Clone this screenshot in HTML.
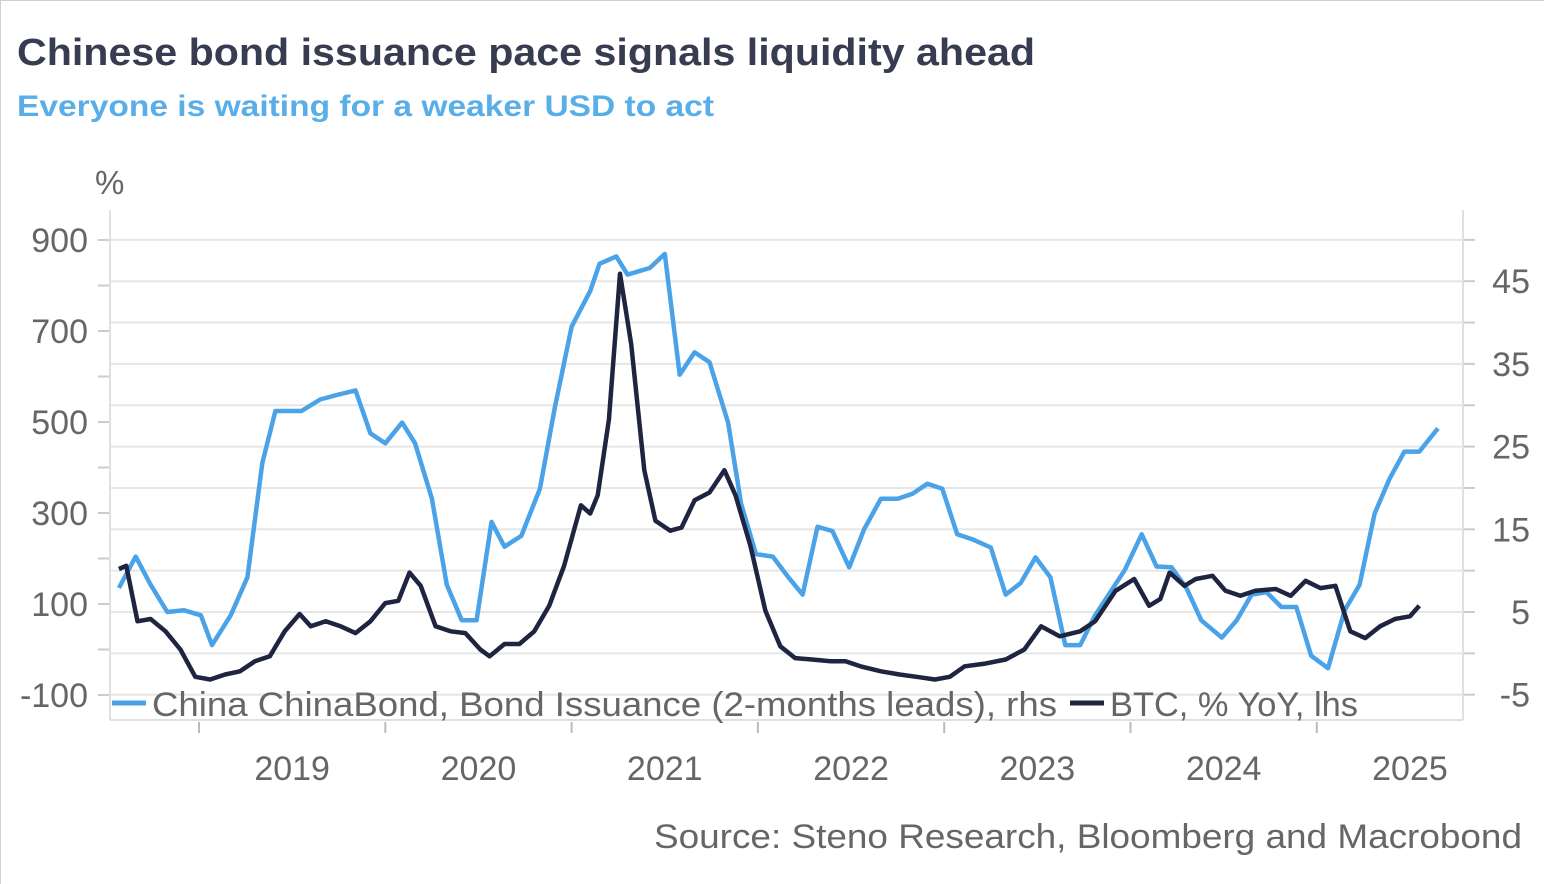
<!DOCTYPE html>
<html><head><meta charset="utf-8"><style>
html,body{margin:0;padding:0;background:#fff;}
svg{display:block;font-family:"Liberation Sans",sans-serif;}
</style></head><body>
<svg id="chart" width="1544" height="884" viewBox="0 0 1544 884">
<rect x="0.5" y="0.5" width="1560" height="900" fill="#fff" stroke="#d0d0d0"/>
<text x="17" y="65" font-size="38" font-weight="bold" fill="#373c50" textLength="1018" lengthAdjust="spacingAndGlyphs">Chinese bond issuance pace signals liquidity ahead</text>
<text x="17" y="116" font-size="30" font-weight="bold" fill="#5aaee8" textLength="697" lengthAdjust="spacingAndGlyphs">Everyone is waiting for a weaker USD to act</text>
<text x="95" y="194" font-size="33" fill="#666">%</text>
<g id="grid"></g>
<g id="axes"></g>
<g id="series"></g>
<g>
<line x1="112" y1="703" x2="146" y2="703" stroke="#4aa3e8" stroke-width="5"/>
<text x="152" y="716" font-size="34" fill="#666" textLength="905" lengthAdjust="spacingAndGlyphs">China ChinaBond, Bond Issuance (2-months leads), rhs</text>
<line x1="1070" y1="703" x2="1104" y2="703" stroke="#1f2540" stroke-width="5"/>
<text x="1110" y="716" font-size="34" fill="#666" textLength="248" lengthAdjust="spacingAndGlyphs">BTC, % YoY, lhs</text>
</g>
<text x="1522" y="848" font-size="34" fill="#666" text-anchor="end" textLength="868" lengthAdjust="spacingAndGlyphs">Source: Steno Research, Bloomberg and Macrobond</text>
</svg>
<script>
const blueT=[2018.57,2018.66,2018.74,2018.83,2018.92,2019.01,2019.07,2019.17,2019.26,2019.34,2019.41,2019.55,2019.65,2019.75,2019.84,2019.92,2020.00,2020.09,2020.16,2020.25,2020.33,2020.41,2020.49,2020.57,2020.64,2020.73,2020.83,2020.91,2021.00,2021.10,2021.15,2021.24,2021.30,2021.42,2021.50,2021.58,2021.66,2021.74,2021.84,2021.91,2021.99,2022.08,2022.16,2022.24,2022.32,2022.40,2022.49,2022.57,2022.66,2022.75,2022.83,2022.91,2022.99,2023.07,2023.15,2023.25,2023.33,2023.41,2023.49,2023.57,2023.65,2023.73,2023.81,2023.90,2023.97,2024.06,2024.14,2024.22,2024.30,2024.38,2024.49,2024.57,2024.65,2024.73,2024.81,2024.89,2024.97,2025.06,2025.15,2025.23,2025.31,2025.39,2025.47,2025.55,2025.65];
const blueV=[7.9,11.7,8.3,5.0,5.2,4.6,1.0,4.6,9.2,23.0,29.3,29.3,30.7,31.3,31.8,26.6,25.4,27.9,25.4,18.7,8.3,4.0,4.0,15.9,12.9,14.2,19.9,29.7,39.5,43.8,47.1,48.0,45.8,46.6,48.3,33.7,36.4,35.2,27.9,18.1,12.0,11.7,9.3,7.1,15.3,14.8,10.4,15.0,18.7,18.7,19.3,20.5,19.9,14.4,13.8,12.8,7.1,8.5,11.6,9.2,1.0,1.0,4.6,7.7,10.1,14.4,10.5,10.4,7.9,4.0,1.9,4.0,7.1,7.4,5.6,5.6,-0.3,-1.8,5.2,8.3,16.9,21.1,24.4,24.4,27.2];
const btcT=[2018.57,2018.61,2018.67,2018.74,2018.82,2018.90,2018.98,2019.06,2019.14,2019.22,2019.30,2019.38,2019.46,2019.54,2019.60,2019.68,2019.76,2019.84,2019.92,2020.00,2020.07,2020.13,2020.19,2020.27,2020.35,2020.43,2020.51,2020.56,2020.64,2020.72,2020.80,2020.88,2020.96,2021.05,2021.10,2021.14,2021.20,2021.26,2021.32,2021.39,2021.45,2021.53,2021.59,2021.66,2021.74,2021.82,2021.88,2021.96,2022.04,2022.12,2022.20,2022.29,2022.39,2022.47,2022.55,2022.66,2022.76,2022.87,2022.95,2023.03,2023.11,2023.22,2023.33,2023.43,2023.52,2023.62,2023.73,2023.81,2023.92,2024.02,2024.10,2024.16,2024.21,2024.29,2024.35,2024.44,2024.51,2024.59,2024.67,2024.78,2024.86,2024.94,2025.02,2025.10,2025.18,2025.26,2025.34,2025.42,2025.50,2025.55];
const btcV=[177,184,62,67,40,0,-60,-66,-55,-48,-26,-15,40,78,51,62,51,36,62,102,107,169,140,51,40,36,0,-15,12,12,40,96,184,317,299,339,505,826,671,394,283,261,268,328,345,394,339,228,85,7,-19,-22,-26,-26,-37,-48,-55,-61,-66,-60,-37,-31,-22,0,51,29,40,62,129,155,96,111,169,140,155,162,129,118,129,133,118,151,135,140,40,25,51,67,73,96];
const leftTicks=[900,700,500,300,100,-100];
const rightTicks=[45,35,25,15,5,-5];
const yearLabels=["2019","2020","2021","2022","2023","2024","2025"];

const NS="http://www.w3.org/2000/svg";
const X0=110,X1=1463,YT=210,YB=720;
function xS(t){return 199+(t-2019)*186.3;}
function yL(v){return 695-(v+100)*0.455;}
function yR(v){return 612-(v-5)*8.27;}
function mk(tag,attrs,parent){const e=document.createElementNS(NS,tag);for(const k in attrs)e.setAttribute(k,attrs[k]);parent.appendChild(e);return e;}
const grid=document.getElementById('grid'),axes=document.getElementById('axes'),series=document.getElementById('series');
for(let v=-5;v<=50;v+=5){
  const g=mk('line',{x1:X0,x2:X1,y1:yR(v),y2:yR(v),stroke:'#e6e6e6','stroke-width':2},grid);
  
  
  const t=mk('line',{x1:X1,x2:X1+12,y1:yR(v),y2:yR(v),stroke:'#ccc','stroke-width':2},axes);
  
  
}
for(let v=-100;v<=900;v+=100){
  const t=mk('line',{x1:X0-12,x2:X0,y1:yL(v),y2:yL(v),stroke:'#ccc','stroke-width':2},axes);
  
  
}
let e=mk('line',{x1:X0,x2:X0,y1:YT,y2:YB,stroke:'#e0e0e0','stroke-width':2},axes);


e=mk('line',{x1:X1,x2:X1,y1:YT,y2:YB,stroke:'#e0e0e0','stroke-width':2},axes);


e=mk('line',{x1:X0,x2:X1,y1:YB,y2:YB,stroke:'#e0e0e0','stroke-width':2},axes);


leftTicks.forEach(v=>{
  const t=mk('text',{x:88,y:yL(v)+12,'font-size':34,fill:'#666','text-anchor':'end'},axes);
  t.textContent=String(v);
  
  
});
rightTicks.forEach(v=>{
  const t=mk('text',{x:1530,y:yR(v)+12,'font-size':34,fill:'#666','text-anchor':'end'},axes);
  t.textContent=String(v);
  
  
});
yearLabels.forEach(y=>{
  const yr=+y;
  const tk=mk('line',{x1:xS(yr),x2:xS(yr),y1:YB+2,y2:YB+13,stroke:'#bbb','stroke-width':2},axes);
  
  
  const t=mk('text',{x:xS(yr+0.5),y:780,'font-size':34,fill:'#666','text-anchor':'middle'},axes);
  t.textContent=y;
  
  
});
function path(T,V,ys){return T.map((t,i)=>(i?'L':'M')+xS(t).toFixed(1)+','+ys(V[i]).toFixed(1)).join('');}
const pb=mk('path',{d:path(blueT,blueV,yR),fill:'none',stroke:'#4aa3e8','stroke-width':4.5,'stroke-linejoin':'round'},series);


const pk=mk('path',{d:path(btcT,btcV,yL),fill:'none',stroke:'#1f2540','stroke-width':4.5,'stroke-linejoin':'round'},series);


</script>
</body></html>
